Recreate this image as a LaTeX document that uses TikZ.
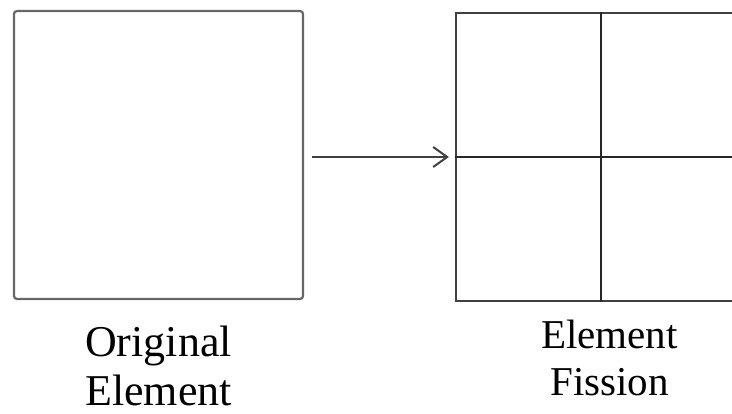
\documentclass[tikz,border=0pt]{standalone}
\usepackage{fontspec}
\setmainfont{Liberation Serif}
\usetikzlibrary{positioning}
\usetikzlibrary{arrows.meta}

\begin{document}
\begin{tikzpicture}[x=1pt, y=-1pt,
  elem/.style={rectangle, minimum width=289pt, minimum height=288pt, inner sep=0pt, line width=2.2pt},
  caption/.style={align=center, inner sep=0pt, anchor=north}]
\useasboundingbox (0,0) rectangle (732,414);
\clip (0,0) rectangle (732,414);
\node [elem, draw=black!60, rounded corners=3pt] (orig) at (158.5, 155) {};
\node [elem, draw=black!75] (fis) at (600.5, 157) {};
\draw [line width=2pt, draw=black!85] (fis.north) to (fis.south);
\draw [line width=2pt, draw=black!85] (fis.west) to (fis.east);
\draw [-{Straight Barb[length=14pt, width=20pt]}, line width=2pt, draw=black!75, shorten <=8pt, shorten >=6pt] (orig.east |- fis) to (fis);
\node [caption, font=\fontsize{44}{49}\selectfont, below=26pt of orig] (origtxt) {Original\\Element};
\node [caption, font=\fontsize{41}{47}\selectfont, below=18pt of fis, xshift=9pt] (fistxt) {Element\\Fission};
\end{tikzpicture}
\end{document}
